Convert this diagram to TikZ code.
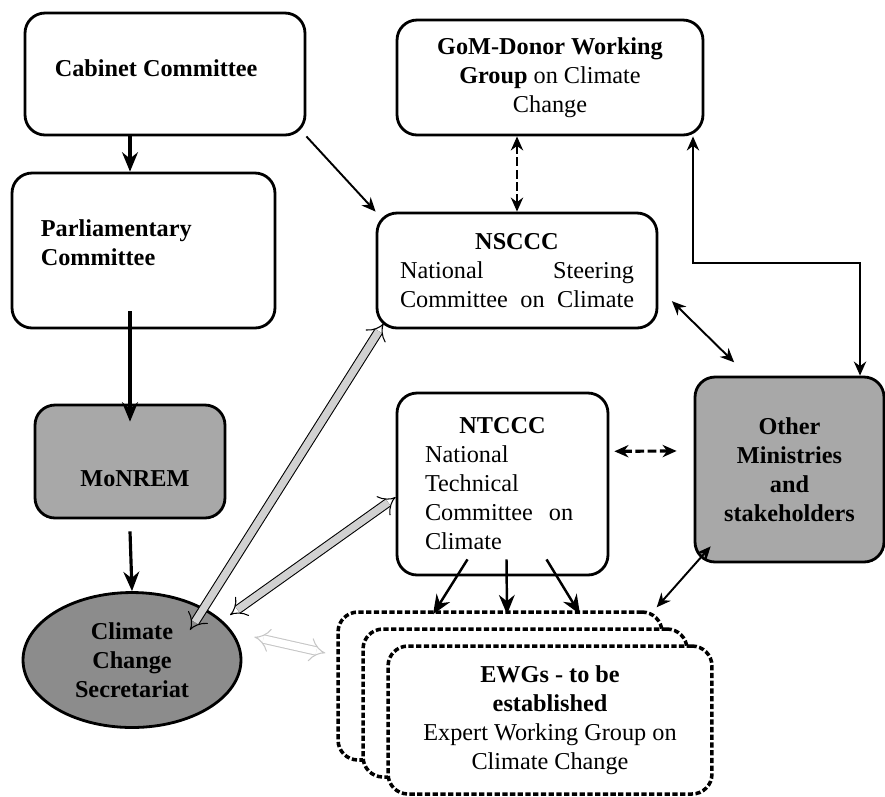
\documentclass[tikz,border=0pt]{standalone}
\usepackage{fontspec}
\setmainfont{Liberation Serif}
\usetikzlibrary{shapes.geometric,arrows.meta,calc}
\definecolor{boxgray}{gray}{0.66}
\definecolor{ovalgray}{gray}{0.55}
\definecolor{pipegray}{gray}{0.82}

\begin{document}
\begin{tikzpicture}[x=0.02cm,y=-0.02cm,
  font=\fontsize{13.8}{16.5}\selectfont,
  box/.style={draw,line width=1.6pt,rounded corners=0.4cm,inner sep=0pt},
  ewgbox/.style={box,fill=white,line width=2pt,dash pattern=on 3pt off 1.4pt,minimum width=6.48cm,minimum height=2.96cm},
  arr/.style={-{Stealth[length=11pt,width=9pt]},line width=1.8pt},
  slim/.style={-{Stealth[length=8pt,width=7pt]},line width=1.1pt},
  both/.style={{Stealth[length=8pt,width=7pt]}-{Stealth[length=8pt,width=7pt]},line width=1.1pt},
  dlink/.style={both,dash pattern=on 5pt off 2pt},
  pipe/.style={double=pipegray,double distance=4.2pt,line width=0.6pt,{Implies}-{Implies}},
]
\useasboundingbox (0,0) rectangle (885,796);

% left column
\node[box,minimum width=5.6cm,minimum height=2.44cm] (cab) at (165,74) {};
\node[anchor=west] (cabtxt) at ($(cab.west)+(25,-6)$) {\textbf{Cabinet Committee}};
\node[box,minimum width=5.26cm,minimum height=3.1cm] (parl) at (143.5,250.5) {};
\node[anchor=west,align=left] (parltxt) at ($(parl.west)+(24,-8)$) {\textbf{Parliamentary}\\\textbf{Committee}};
\node[box,fill=boxgray,minimum width=3.8cm,minimum height=2.26cm] (mon) at (130,461.5) {};
\node (montxt) at ($(mon)+(5,17)$) {\textbf{MoNREM}};
\node[ellipse,draw,line width=1.6pt,fill=ovalgray,minimum width=4.36cm,minimum height=2.7cm,inner sep=0pt,align=center] (ccs) at (132,660) {\textbf{Climate}\\\textbf{Change}\\\textbf{Secretariat}};

% committees
\node[box,minimum width=6.12cm,minimum height=2.3cm,align=center] (gom) at (550,77.5) {\textbf{GoM-Donor Working}\\\textbf{Group} on Climate\\Change};
\node[box,minimum width=5.6cm,minimum height=2.3cm,align=center] (nsc) at (517,270.5) {\textbf{NSCCC}\\\makebox[4.68cm][s]{National Steering}\\\makebox[4.68cm][s]{Committee on Climate}};
\node[box,minimum width=4.22cm,minimum height=3.64cm,text width=3.1cm,align=left] (ntc) at (502.5,484) {\makebox[3.1cm]{\textbf{NTCCC}}\\National\\Technical\\Committee\ \ on\\Climate};
\node[box,fill=boxgray,minimum width=3.78cm,minimum height=3.7cm,align=center] (oth) at (789.5,469.5) {\textbf{Other}\\\textbf{Ministries}\\\textbf{and}\\\textbf{stakeholders}};

% expert groups
\node[ewgbox] (ewg1) at (500,686) {};
\node[ewgbox] (ewg2) at (525,703) {};
\node[ewgbox,align=center] (ewg3) at (550,720) {\textbf{EWGs - to be}\\\textbf{established}\\Expert Working Group on\\Climate Change};

\coordinate (c1) at (693,263);
\coordinate (c2) at (860,263);

\draw[arr] (cab.south -| mon.north) -- (parl.north -| mon.north);
\draw[arr] ($(parl.south -| mon.north)+(0,-18)$) -- ($(mon.north)+(0,18)$);
\draw[arr] ($(mon.south)+(0,12)$) -- (ccs.north);
\draw[slim] (cab.south east) -- (nsc.north west);
\draw[dlink] (gom.south -| nsc.north) -- (nsc.north);
\draw[both,line width=1.6pt] (c1 |- gom.south) -- (c1) -- (c2) -- (c2 |- oth.north);
\draw[both,shorten <=0.38cm,shorten >=0.38cm] (nsc.-7) -- (oth.114);
\draw[dlink,line width=1.8pt,shorten <=0.1cm,shorten >=0.34cm] (ntc.17) -- (oth.169);
\draw[both] ($(oth.south west)+(17,-17)$) -- ($(ewg1.north east)+(-7,-3)$);
\draw[arr,line width=1.4pt] ($(ntc.south)+(-35,-17)$) -- ($(ewg1.north)+(-67,4)$);
\draw[arr,line width=1.4pt] ($(ntc.south)+(4,-17)$) -- ($(ewg1.north)+(7,4)$);
\draw[arr,line width=1.4pt] ($(ntc.south)+(44,-17)$) -- ($(ewg1.north)+(80,4)$);

\draw[pipe] ($(ccs)+(58,-30)$) -- ($(nsc.south west)+(8,-6)$);
\draw[pipe] ($(ccs)+(98,-45)$) -- (ntc.187);
\draw[pipe,draw=gray!45,double=white] ($(ccs.east)+(12,-23)$) -- ($(ewg1.west)+(-11,-33)$);
\end{tikzpicture}
\end{document}
